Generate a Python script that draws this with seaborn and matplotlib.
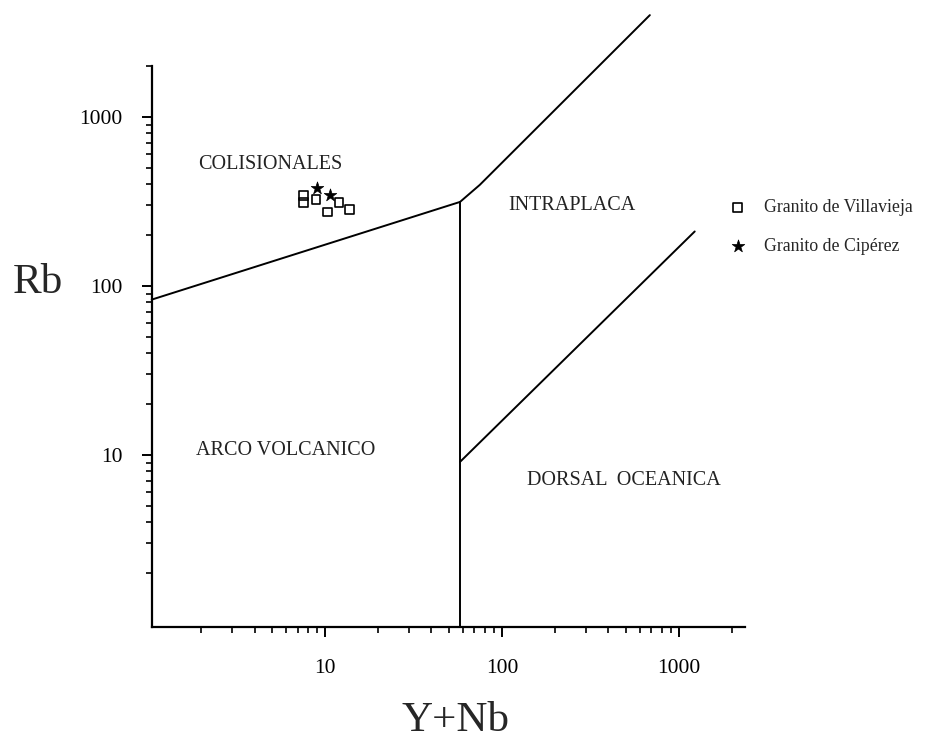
import pandas as pd
import matplotlib
matplotlib.use("Agg")
import matplotlib.pyplot as plt
import seaborn as sns

villavieja_ynb = [7.6, 7.6, 8.9, 10.3, 12.0, 13.7]
villavieja_rb = [341, 310, 323, 274, 310, 282]
ciperez_ynb = [9.0, 10.7]
ciperez_rb = [380, 345]

# Limites de los campos (Pearce et al.)
colg_vag_x = [1.05, 58]
colg_vag_y = [83, 314]
vag_org_x = [58, 58]
vag_org_y = [314, 0.96]
wpg_colg_x = [58, 75, 686]
wpg_colg_y = [314, 396, 4000]
wpg_org_x = [58, 1230]
wpg_org_y = [9.1, 210]

tick_vals = [10, 100, 1000]
tick_labels = ["10", "100", "1000"]

sns.set_theme(style="ticks")
plt.rcParams["font.family"] = ["Liberation Serif", "DejaVu Serif"]

villavieja = pd.DataFrame({"YNb": villavieja_ynb, "Rb": villavieja_rb})
ciperez = pd.DataFrame({"YNb": ciperez_ynb, "Rb": ciperez_rb})

fig = plt.figure(figsize=(9.31, 7.45), dpi=100)
ax = fig.add_axes([0.1633, 0.1584, 0.6367, 0.7530])
ax.set_xscale("log")
ax.set_yscale("log")

# lineas de los limites
for xs, ys in [(colg_vag_x, colg_vag_y), (vag_org_x, vag_org_y),
               (wpg_colg_x, wpg_colg_y), (wpg_org_x, wpg_org_y)]:
    ax.plot(xs, ys, color="black", lw=1.4, clip_on=False, zorder=2)

sns.scatterplot(data=villavieja, x="YNb", y="Rb", marker="s", s=40,
                facecolor="none", edgecolor="black", linewidth=1.2,
                ax=ax, zorder=3, label="Granito de Villavieja", legend=False)
sns.scatterplot(data=ciperez, x="YNb", y="Rb", marker="*", s=90,
                color="black", edgecolor="black", linewidth=0.5,
                ax=ax, zorder=3, label="Granito de Cipérez", legend=False)

ax.set_xlim(1.054, 2360)
ax.set_ylim(0.96, 2000)
ax.set_xticks(tick_vals)
ax.set_xticklabels(tick_labels)
ax.set_yticks(tick_vals)
ax.set_yticklabels(tick_labels)

sns.despine(ax=ax)
for s in ["left", "bottom"]:
    ax.spines[s].set_linewidth(1.6)
    ax.spines[s].set_color("black")
ax.tick_params(which="major", direction="out", length=7, width=1.4,
               colors="black", labelsize=15.5)
ax.tick_params(which="minor", direction="out", length=4, width=1.2,
               colors="black")
ax.tick_params(axis="y", which="major", pad=14)
ax.tick_params(axis="x", which="major", pad=16)
ax.set_xlabel("")
ax.set_ylabel("")

txt = dict(transform=ax.transAxes, ha="center", va="center",
           fontsize=14.5, color="#222222")
ax.text(0.199, 0.824, "COLISIONALES", **txt)
ax.text(0.708, 0.752, "INTRAPLACA", **txt)
ax.text(0.226, 0.314, "ARCO VOLCANICO", **txt)
ax.text(0.796, 0.261, "DORSAL  OCEANICA", **txt)

fig.text(0.041, 0.62, "Rb", fontsize=31, ha="center", va="center")
fig.text(0.489, 0.032, "Y+Nb", fontsize=31, ha="center", va="center")

fig.legend(loc="upper left", bbox_to_anchor=(0.775, 0.742), frameon=False,
           fontsize=12.8, handlelength=1.0, handletextpad=1.0,
           labelspacing=1.2, borderaxespad=0)

fig.savefig("out.png", dpi=100)
